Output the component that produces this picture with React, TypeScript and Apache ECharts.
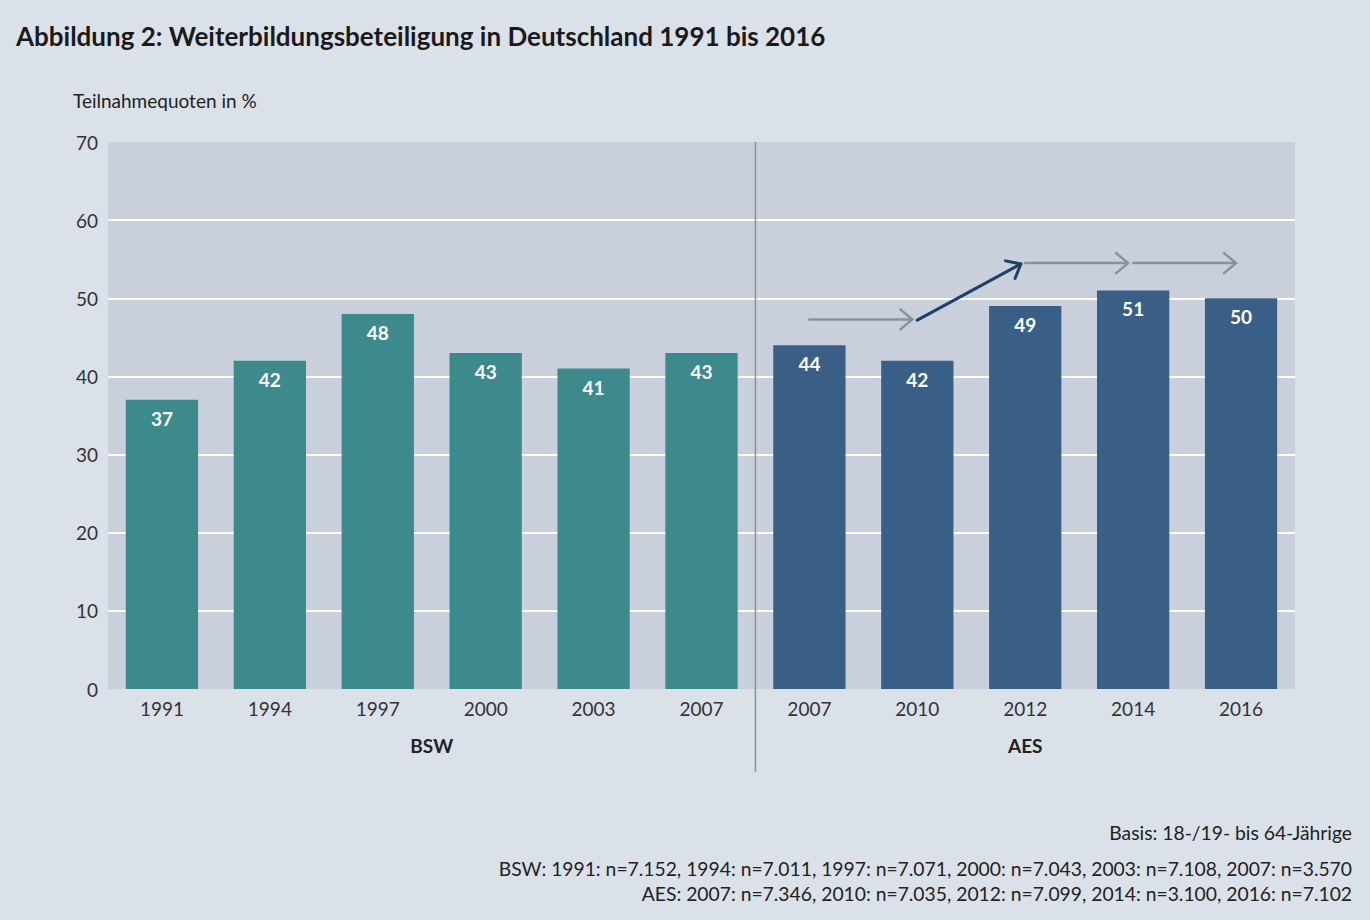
import React, { useEffect, useRef } from "react";
import * as echarts from "echarts";

const categories = ["1991", "1994", "1997", "2000", "2003", "2007", "2007", "2010", "2012", "2014", "2016"];
const bswValues = [37, 42, 48, 43, 41, 43];
const aesValues = [44, 42, 49, 51, 50];
const groupLabels = ["BSW", "AES"];
const yMin = 0;
const yMax = 70;
const yInterval = 10;
// arrows: [fromIndex, fromValue, toIndex, toValue]
const greyArrows = [
  [6, 47.3, 7, 47.3],
  [8, 54.5, 9, 54.5],
  [9, 54.5, 10, 54.5],
];
const trendArrows = [[7, 47.2, 8, 54.7]];
const titleText = "Abbildung 2: Weiterbildungsbeteiligung in Deutschland 1991 bis 2016";
const yAxisTitle = "Teilnahmequoten in %";
const footnotes = [
  "Basis: 18-/19- bis 64-Jährige",
  "BSW: 1991: n=7.152, 1994: n=7.011, 1997: n=7.071, 2000: n=7.043, 2003: n=7.108, 2007: n=3.570",
  "AES: 2007: n=7.346, 2010: n=7.035, 2012: n=7.099, 2014: n=3.100, 2016: n=7.102",
];

const FONT = "Lato, 'Noto Sans', sans-serif";
const TEAL = "#3c8a8c";
const NAVY = "#3a5f87";
const PLOT_BG = "#c9d0db";

function arrowRender(params: any, api: any) {
  const p0 = api.coord([api.value(0), api.value(1)]);
  const p1raw = api.coord([api.value(2), api.value(3)]);
  const dx = p1raw[0] - p0[0];
  const dy = p1raw[1] - p0[1];
  const len = Math.sqrt(dx * dx + dy * dy);
  const ux = dx / len;
  const uy = dy / len;
  const p1 = [p1raw[0] - ux * 5, p1raw[1] - uy * 5];
  const back = 12;
  const half = 10;
  const bx = p1[0] - ux * back;
  const by = p1[1] - uy * back;
  const nx = -uy;
  const ny = ux;
  const color = api.visual("color");
  const lw = params.seriesName === "trend" ? 3 : 2.5;
  return {
    type: "group",
    children: [
      {
        type: "line",
        shape: { x1: p0[0], y1: p0[1], x2: p1[0], y2: p1[1] },
        style: { stroke: color, lineWidth: lw, lineCap: "round" },
      },
      {
        type: "polyline",
        shape: {
          points: [
            [bx + nx * half, by + ny * half],
            [p1[0], p1[1]],
            [bx - nx * half, by - ny * half],
          ],
        },
        style: { stroke: color, lineWidth: lw, fill: "none", lineJoin: "round", lineCap: "round" },
      },
    ],
  };
}

export default function App() {
  const ref = useRef<HTMLDivElement>(null);
  useEffect(() => {
    document.body.style.margin = "0";
    const chart = echarts.init(ref.current!, undefined, { renderer: "svg" });
    const n = categories.length;
    const bswData = categories.map((_, i) => (i < bswValues.length ? bswValues[i] : "-"));
    const aesData = categories.map((_, i) => (i >= bswValues.length ? aesValues[i - bswValues.length] : "-"));
    const tickCount = Math.round((yMax - yMin) / yInterval) + 1;
    const splitColors = Array.from({ length: tickCount }, (_, i) =>
      i === 0 || i === tickCount - 1 ? "rgba(0,0,0,0)" : "#ffffff"
    );
    const labelCfg = {
      show: true,
      position: "insideTop",
      distance: 9,
      color: "#ffffff",
      fontFamily: FONT,
      fontWeight: "bold",
      fontSize: 19,
    };
    const option: any = {
      animation: false,
      backgroundColor: "#dbe1e8",
      textStyle: { fontFamily: FONT },
      grid: {
        left: 108,
        right: 75,
        top: 142,
        bottom: 231,
        show: true,
        backgroundColor: PLOT_BG,
        borderWidth: 0,
      },
      xAxis: {
        type: "category",
        data: categories,
        axisLine: { show: false },
        axisTick: { show: false },
        axisLabel: { color: "#333333", fontSize: 19, fontFamily: FONT, margin: 10 },
      },
      yAxis: {
        type: "value",
        min: yMin,
        max: yMax,
        interval: yInterval,
        axisLine: { show: false },
        axisTick: { show: false },
        axisLabel: { color: "#333333", fontSize: 19, fontFamily: FONT, margin: 10 },
        splitLine: { lineStyle: { color: splitColors, width: 2 } },
      },
      series: [
        {
          name: "BSW",
          type: "bar",
          stack: "all",
          barWidth: "67%",
          data: bswData,
          itemStyle: { color: TEAL },
          label: labelCfg,
        },
        {
          name: "AES",
          type: "bar",
          stack: "all",
          barWidth: "67%",
          data: aesData,
          itemStyle: { color: NAVY },
          label: labelCfg,
        },
        {
          name: "grey",
          type: "custom",
          coordinateSystem: "cartesian2d",
          renderItem: arrowRender,
          encode: { x: [0, 2], y: [1, 3] },
          itemStyle: { color: "#8a9197" },
          data: greyArrows,
          z: 5,
        },
        {
          name: "trend",
          type: "custom",
          coordinateSystem: "cartesian2d",
          renderItem: arrowRender,
          encode: { x: [0, 2], y: [1, 3] },
          itemStyle: { color: "#1f4068" },
          data: trendArrows,
          z: 5,
        },
      ],
    };
    chart.setOption(option);

    const px = (i: number) => chart.convertToPixel({ xAxisIndex: 0 }, i) as number;
    const split = bswValues.length;
    const dividerX = (px(split - 1) + px(split)) / 2;
    const bswX = (px(0) + px(split - 1)) / 2;
    const aesX = (px(split) + px(n - 1)) / 2;
    const topY = chart.convertToPixel({ yAxisIndex: 0 }, yMax) as number;

    chart.setOption({
      graphic: [
        {
          type: "text",
          left: 16,
          top: 23,
          style: { text: titleText, fontFamily: FONT, fontWeight: "bold", fontSize: 26, fill: "#1a1a1a" },
        },
        {
          type: "text",
          left: 73,
          top: 91,
          style: { text: yAxisTitle, fontFamily: FONT, fontSize: 19, fill: "#222222" },
        },
        {
          type: "line",
          shape: { x1: dividerX, y1: topY, x2: dividerX, y2: 772 },
          style: { stroke: "#8b9199", lineWidth: 1.5 },
          z: 10,
        },
        {
          type: "text",
          x: bswX,
          y: 745,
          style: {
            text: groupLabels[0],
            fontFamily: FONT,
            fontWeight: "bold",
            fontSize: 19,
            fill: "#222222",
            align: "center",
            verticalAlign: "middle",
          },
        },
        {
          type: "text",
          x: aesX,
          y: 745,
          style: {
            text: groupLabels[1],
            fontFamily: FONT,
            fontWeight: "bold",
            fontSize: 19,
            fill: "#222222",
            align: "center",
            verticalAlign: "middle",
          },
        },
        ...footnotes.map((t, i) => ({
          type: "text",
          x: 1352,
          y: [832, 868, 893][i],
          style: {
            text: t,
            fontFamily: FONT,
            fontSize: 19.3,
            fill: "#222222",
            align: "right",
            verticalAlign: "middle",
          },
        })),
      ],
    });
    return () => chart.dispose();
  }, []);
  return <div ref={ref} style={{ width: 1370, height: 920 }} />;
}
